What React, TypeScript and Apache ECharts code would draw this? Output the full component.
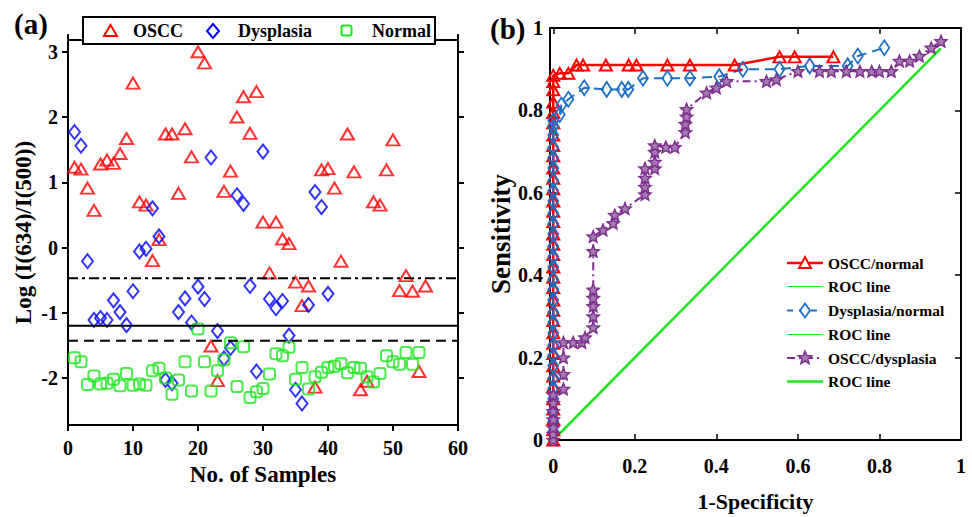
import React, { useEffect, useRef } from "react";
import * as echarts from "echarts";

// ---------- Panel (a) data: Log(I(634)/I(500)) per sample ----------
const osccValues = [
  1.23, 1.2, 0.91, 0.57, 1.28, 1.34, 1.29, 1.44, 1.67, 2.52,
  0.7, 0.65, -0.2, 0.12, 1.74, 1.74, 0.83, 1.82, 1.39, 3.0,
  2.83, -1.51, -2.04, 0.86, 1.17, 2.0, 2.31, 1.75, 2.39, 0.39,
  -0.39, 0.39, 0.13, 0.06, -0.53, -0.89, -0.59, -2.14, 1.19, 1.21,
  0.91, -0.21, 1.74, 1.16, -2.18, -2.05, 0.7, 0.65, 1.19, 1.65,
  -0.66, -0.43, -0.67, -1.9, -0.59,
];
const dysplasiaValues = [
  1.77, 1.56, -0.21, -1.11, -1.08, -1.11, -0.81, -0.99, -1.19, -0.67,
  -0.06, -0.02, 0.6, 0.17, -2.03, -2.08, -0.99, -0.78, -1.15, -0.6,
  -0.79, 1.38, -1.28, -1.7, -1.54, 0.8, 0.67, -0.59, -1.9, 1.47,
  -0.79, -0.93, -0.82, -1.35, -2.18, -2.39, -0.88, 0.85, 0.62, -0.71,
];
const normalValues = [
  -1.69, -1.75, -2.1, -1.97, -2.09, -2.08, -2.02, -2.12, -1.93, -2.11,
  -2.09, -2.11, -1.89, -1.85, -2.0, -2.25, -2.03, -1.75, -2.2, -1.25,
  -1.75, -2.2, -1.89, -1.72, -1.46, -2.13, -1.52, -2.3, -2.21, -2.16,
  -1.94, -1.63, -1.66, -1.53, -2.02, -1.84, -2.17, -1.98, -1.91, -1.84,
  -1.82, -1.78, -1.92, -1.84, -1.85, -1.98, -2.06, -1.93, -1.66, -1.75,
  -1.79, -1.61, -1.79, -1.61,
];
const refDashDot = -0.47;
const refSolid = -1.2;
const refDashed = -1.43;
const xTicksA = [0, 10, 20, 30, 40, 50, 60];
const yTicksA = [-2, -1, 0, 1, 2, 3];

// ---------- Panel (b) data: ROC curves [1-specificity, sensitivity] ----------
const rocOsccNormal: [number, number][] = [
  [0, 0], [0, 0.025], [0, 0.05], [0, 0.075], [0, 0.1], [0, 0.13], [0, 0.155],
  [0, 0.18], [0, 0.21], [0, 0.235], [0, 0.26], [0, 0.29], [0, 0.315], [0, 0.34],
  [0, 0.37], [0, 0.395], [0, 0.42], [0, 0.45], [0, 0.475], [0, 0.5], [0, 0.53],
  [0, 0.555], [0, 0.58], [0, 0.61], [0, 0.635], [0, 0.66], [0, 0.69], [0, 0.715],
  [0, 0.74], [0, 0.77], [0, 0.795], [0, 0.82], [0, 0.85], [0, 0.87], [0, 0.885],
  [0.016, 0.89], [0.037, 0.89], [0.057, 0.91], [0.073, 0.91], [0.129, 0.91],
  [0.185, 0.91], [0.204, 0.91], [0.28, 0.91], [0.335, 0.91], [0.445, 0.91],
  [0.555, 0.93], [0.592, 0.93], [0.687, 0.93],
];
const rocDysplasiaNormal: [number, number][] = [
  [0, 0.02], [0, 0.045], [0, 0.07], [0, 0.1], [0, 0.125], [0, 0.15], [0, 0.18],
  [0, 0.205], [0, 0.23], [0, 0.26], [0, 0.285], [0, 0.31], [0, 0.34], [0, 0.365],
  [0, 0.39], [0, 0.42], [0, 0.445], [0, 0.47], [0, 0.5], [0, 0.525], [0, 0.55],
  [0, 0.58], [0, 0.605], [0, 0.63], [0, 0.66], [0, 0.685], [0, 0.71], [0, 0.74],
  [0, 0.76], [0, 0.775], [0.016, 0.79], [0.02, 0.813], [0.037, 0.827],
  [0.076, 0.855], [0.131, 0.851], [0.168, 0.851], [0.184, 0.851], [0.22, 0.878],
  [0.28, 0.878], [0.335, 0.878], [0.407, 0.882], [0.465, 0.9], [0.555, 0.9],
  [0.629, 0.908], [0.722, 0.908], [0.747, 0.932], [0.812, 0.952],
];
const rocOsccDysplasia: [number, number][] = [
  [0, 0], [0, 0.015], [0, 0.03], [0, 0.05], [0, 0.07], [0, 0.09], [0, 0.11],
  [0.025, 0.124], [0.025, 0.16], [0.025, 0.2], [0.025, 0.237], [0.049, 0.237],
  [0.07, 0.237], [0.078, 0.249], [0.098, 0.273], [0.098, 0.3], [0.098, 0.325],
  [0.098, 0.345], [0.098, 0.365], [0.098, 0.458], [0.098, 0.494], [0.122, 0.51],
  [0.147, 0.526], [0.151, 0.546], [0.176, 0.562], [0.225, 0.596], [0.225, 0.614],
  [0.225, 0.636], [0.225, 0.659], [0.249, 0.659], [0.249, 0.675], [0.249, 0.699],
  [0.249, 0.715], [0.276, 0.711], [0.298, 0.711], [0.324, 0.747], [0.324, 0.767],
  [0.327, 0.785], [0.327, 0.803], [0.376, 0.843], [0.4, 0.855], [0.425, 0.871],
  [0.523, 0.871], [0.547, 0.875], [0.6, 0.895], [0.653, 0.895], [0.682, 0.895],
  [0.719, 0.895], [0.752, 0.895], [0.781, 0.895], [0.8, 0.895], [0.829, 0.895],
  [0.849, 0.92], [0.874, 0.92], [0.898, 0.932], [0.927, 0.952], [0.951, 0.968],
];
const rocDiagonal: [number, number][] = [[0, 0], [0.95, 0.95]];
const ticksB = [0, 0.2, 0.4, 0.6, 0.8, 1];

// ---------- styling ----------
const FONT = '"Liberation Serif", "Times New Roman", serif';
const RED = "#ff0000";
const BLUE = "#0000ff";
const GREEN = "#1ee61e";
const ROC_BLUE = "#1c6fc4";
const PURPLE = "#7e2f8e";
const STAR =
  "path://M0,-6 L1.6,-2.2 L5.71,-1.85 L2.6,0.85 L3.53,4.85 L0,2.7 L-3.53,4.85 L-2.6,0.85 L-5.71,-1.85 L-1.6,-2.2 Z";
const CLEAR = "rgba(0,0,0,0)";

const labelStyle = { color: "#000", fontFamily: FONT, fontWeight: "bold" as const, fontSize: 20 };
const nameStyle = (size: number) => ({ color: "#000", fontFamily: FONT, fontWeight: "bold" as const, fontSize: size });
const axisLine = { show: true, onZero: false, lineStyle: { color: "#000", width: 2 } };

function starPoints(cx: number, cy: number, r: number, ri: number) {
  const pts: number[][] = [];
  for (let k = 0; k < 10; k++) {
    const a = ((-90 + k * 36) * Math.PI) / 180;
    const rr = k % 2 === 0 ? r : ri;
    pts.push([cx + rr * Math.cos(a), cy + rr * Math.sin(a)]);
  }
  return pts;
}

export default function App() {
  const ref = useRef<HTMLDivElement>(null);
  useEffect(() => {
    if (!ref.current) return;
    const chart = echarts.init(ref.current, undefined, { renderer: "svg" });

    const txt = (text: string, x: number, y: number, size: number) => ({
      type: "text",
      x,
      y,
      z: 101,
      style: { text, font: `bold ${size}px ${FONT}`, fill: "#000", align: "left", verticalAlign: "middle" },
    });

    // legend (b) rows
    const lx0 = 787, lx1 = 823, lcx = 805, ltx = 828;
    const rows = [263, 286.5, 310.5, 334.5, 358, 381.5];

    const option: any = {
      animation: false,
      backgroundColor: "#fff",
      textStyle: { fontFamily: FONT },
      grid: [
        { left: 68, top: 40, width: 390, height: 385 },
        { left: 550, top: 28, width: 411, height: 415.5 },
      ],
      xAxis: [
        {
          type: "value", gridIndex: 0, min: 0, max: 60, interval: 10, position: "bottom",
          name: "No. of Samples", nameLocation: "middle", nameGap: 38, nameTextStyle: nameStyle(23),
          axisLine, splitLine: { show: false },
          axisTick: { show: true, inside: false, length: 6, lineStyle: { width: 2, color: "#000" }, customValues: xTicksA },
          axisLabel: { ...labelStyle, margin: 13, customValues: xTicksA },
        },
        {
          type: "value", gridIndex: 0, min: 0, max: 60, interval: 10, position: "top",
          axisLine, splitLine: { show: false },
          axisTick: { show: true, inside: false, length: 6, lineStyle: { width: 2, color: "#000" } },
          axisLabel: { show: false },
        },
        {
          type: "value", gridIndex: 1, min: -0.008, max: 1, position: "bottom",
          name: "1-Specificity", nameLocation: "middle", nameGap: 50, nameTextStyle: nameStyle(22),
          axisLine, splitLine: { show: false },
          axisTick: { show: true, inside: true, length: 6, lineStyle: { width: 1.5, color: "#000" }, customValues: ticksB },
          axisLabel: { ...labelStyle, margin: 16, customValues: ticksB, formatter: (v: number) => String(v) },
        },
        {
          type: "value", gridIndex: 1, min: -0.008, max: 1, position: "top",
          axisLine, splitLine: { show: false },
          axisTick: { show: true, inside: true, length: 6, lineStyle: { width: 1.5, color: "#000" }, customValues: ticksB },
          axisLabel: { show: false },
        },
      ],
      yAxis: [
        {
          type: "value", gridIndex: 0, min: -2.72, max: 3.18, position: "left",
          name: "Log (I(634)/I(500))", nameLocation: "middle", nameGap: 33, nameTextStyle: nameStyle(23),
          axisLine, splitLine: { show: false },
          axisTick: { show: true, inside: false, length: 6, lineStyle: { width: 2, color: "#000" }, customValues: yTicksA },
          axisLabel: { ...labelStyle, margin: 10, customValues: yTicksA },
        },
        {
          type: "value", gridIndex: 0, min: -2.72, max: 3.18, position: "right",
          axisLine, splitLine: { show: false },
          axisTick: { show: true, inside: false, length: 6, lineStyle: { width: 2, color: "#000" }, customValues: yTicksA },
          axisLabel: { show: false },
        },
        {
          type: "value", gridIndex: 1, min: 0, max: 1, interval: 0.2, position: "left",
          name: "Sensitivity", nameLocation: "middle", nameGap: 32, nameTextStyle: nameStyle(27),
          axisLine, splitLine: { show: false },
          axisTick: { show: true, inside: true, length: 6, lineStyle: { width: 1.5, color: "#000" } },
          axisLabel: { ...labelStyle, margin: 7 },
        },
        {
          type: "value", gridIndex: 1, min: 0, max: 1, interval: 0.2, position: "right",
          axisLine, splitLine: { show: false },
          axisTick: { show: true, inside: true, length: 6, lineStyle: { width: 1.5, color: "#000" } },
          axisLabel: { show: false },
        },
      ],
      series: [
        {
          name: "OSCC", type: "scatter", xAxisIndex: 0, yAxisIndex: 0,
          data: osccValues.map((v, i) => [i + 1, v]),
          symbol: "triangle", symbolSize: [13, 11],
          itemStyle: { color: CLEAR, borderColor: RED, borderWidth: 2 },
        },
        {
          name: "Dysplasia", type: "scatter", xAxisIndex: 0, yAxisIndex: 0,
          data: dysplasiaValues.map((v, i) => [i + 1, v]),
          symbol: "diamond", symbolSize: [11, 14],
          itemStyle: { color: CLEAR, borderColor: BLUE, borderWidth: 2 },
        },
        {
          name: "Normal", type: "scatter", xAxisIndex: 0, yAxisIndex: 0,
          data: normalValues.map((v, i) => [i + 1, v]),
          symbol: "roundRect", symbolSize: [11, 11],
          itemStyle: { color: CLEAR, borderColor: GREEN, borderWidth: 2 },
        },
        {
          name: "ref-dashdot", type: "line", xAxisIndex: 0, yAxisIndex: 0, symbol: "none",
          data: [[0, refDashDot], [60, refDashDot]],
          lineStyle: { color: "#000", width: 2, type: [10, 4, 3, 4] },
        },
        {
          name: "ref-solid", type: "line", xAxisIndex: 0, yAxisIndex: 0, symbol: "none",
          data: [[0, refSolid], [60, refSolid]],
          lineStyle: { color: "#000", width: 2, type: "solid" },
        },
        {
          name: "ref-dashed", type: "line", xAxisIndex: 0, yAxisIndex: 0, symbol: "none",
          data: [[0, refDashed], [60, refDashed]],
          lineStyle: { color: "#000", width: 2, type: [10, 6] },
        },
        {
          name: "OSCC/normal", type: "line", xAxisIndex: 2, yAxisIndex: 2,
          data: rocOsccNormal, showAllSymbol: true,
          symbol: "triangle", symbolSize: [12, 11],
          lineStyle: { color: RED, width: 2.5 },
          itemStyle: { color: CLEAR, borderColor: RED, borderWidth: 2 },
        },
        {
          name: "ROC line", type: "line", xAxisIndex: 2, yAxisIndex: 2, symbol: "none",
          data: rocDiagonal, lineStyle: { color: GREEN, width: 1 },
        },
        {
          name: "Dysplasia/normal", type: "line", xAxisIndex: 2, yAxisIndex: 2,
          data: rocDysplasiaNormal, showAllSymbol: true,
          symbol: "diamond", symbolSize: [10, 15],
          lineStyle: { color: ROC_BLUE, width: 2, type: [10, 6] },
          itemStyle: { color: CLEAR, borderColor: ROC_BLUE, borderWidth: 1.8 },
        },
        {
          name: "ROC line", type: "line", xAxisIndex: 2, yAxisIndex: 2, symbol: "none",
          data: rocDiagonal, lineStyle: { color: GREEN, width: 1 },
        },
        {
          name: "OSCC/dysplasia", type: "line", xAxisIndex: 2, yAxisIndex: 2,
          data: rocOsccDysplasia, showAllSymbol: true,
          symbol: STAR, symbolSize: 12, symbolKeepAspect: true,
          lineStyle: { color: PURPLE, width: 2, type: [8, 4, 2, 4] },
          itemStyle: { color: "#a57bb3", borderColor: PURPLE, borderWidth: 1.5 },
        },
        {
          name: "ROC line", type: "line", xAxisIndex: 2, yAxisIndex: 2, symbol: "none",
          data: rocDiagonal, lineStyle: { color: GREEN, width: 2.5 },
        },
      ],
      graphic: [
        // panel titles
        txt("(a)", 14, 24, 29),
        txt("(b)", 490, 29, 29),
        // legend (a)
        {
          type: "rect", z: 100,
          shape: { x: 83, y: 17, width: 352, height: 27 },
          style: { fill: "#fff", stroke: "#000", lineWidth: 2 },
        },
        {
          type: "polygon", z: 101,
          shape: { points: [[104, 36], [117, 36], [110.5, 25]] },
          style: { fill: CLEAR, stroke: RED, lineWidth: 2 },
        },
        txt("OSCC", 133, 31, 18),
        {
          type: "polygon", z: 101,
          shape: { points: [[213, 24], [219, 31], [213, 38], [207, 31]] },
          style: { fill: CLEAR, stroke: BLUE, lineWidth: 2 },
        },
        txt("Dysplasia", 238, 31, 18),
        {
          type: "rect", z: 101,
          shape: { x: 341.5, y: 25.5, width: 10, height: 10, r: 2 },
          style: { fill: CLEAR, stroke: GREEN, lineWidth: 2 },
        },
        txt("Normal", 372, 31, 18),
        // legend (b)
        { type: "line", z: 100, shape: { x1: lx0, y1: rows[0], x2: lx1, y2: rows[0] }, style: { stroke: RED, lineWidth: 2.5 } },
        {
          type: "polygon", z: 101,
          shape: { points: [[lcx - 6, rows[0] + 5], [lcx + 6, rows[0] + 5], [lcx, rows[0] - 6]] },
          style: { fill: "#fff", stroke: RED, lineWidth: 2 },
        },
        txt("OSCC/normal", ltx, rows[0], 15.5),
        { type: "line", z: 100, shape: { x1: lx0, y1: rows[1], x2: lx1, y2: rows[1] }, style: { stroke: GREEN, lineWidth: 1 } },
        txt("ROC line", ltx, rows[1], 15.5),
        { type: "line", z: 100, shape: { x1: lx0, y1: rows[2], x2: lx1, y2: rows[2] }, style: { stroke: ROC_BLUE, lineWidth: 2, lineDash: [6, 6] } },
        {
          type: "polygon", z: 101,
          shape: { points: [[lcx, rows[2] - 7], [lcx + 5, rows[2]], [lcx, rows[2] + 7], [lcx - 5, rows[2]]] },
          style: { fill: "#fff", stroke: ROC_BLUE, lineWidth: 1.8 },
        },
        txt("Dysplasia/normal", ltx, rows[2], 15.5),
        { type: "line", z: 100, shape: { x1: lx0, y1: rows[3], x2: lx1, y2: rows[3] }, style: { stroke: GREEN, lineWidth: 1 } },
        txt("ROC line", ltx, rows[3], 15.5),
        { type: "line", z: 100, shape: { x1: lx0, y1: rows[4], x2: lx1, y2: rows[4] }, style: { stroke: PURPLE, lineWidth: 2, lineDash: [8, 4, 2, 4] } },
        {
          type: "polygon", z: 101,
          shape: { points: starPoints(lcx, rows[4], 7, 3) },
          style: { fill: "#a57bb3", stroke: PURPLE, lineWidth: 1.5 },
        },
        txt("OSCC/dysplasia", ltx, rows[4], 15.5),
        { type: "line", z: 100, shape: { x1: lx0, y1: rows[5], x2: lx1, y2: rows[5] }, style: { stroke: GREEN, lineWidth: 2.5 } },
        txt("ROC line", ltx, rows[5], 15.5),
      ],
    };

    chart.setOption(option);
    return () => chart.dispose();
  }, []);

  return (
    <div
      ref={ref}
      style={{ position: "fixed", left: 0, top: 0, width: 972, height: 517, background: "#fff" }}
    />
  );
}
